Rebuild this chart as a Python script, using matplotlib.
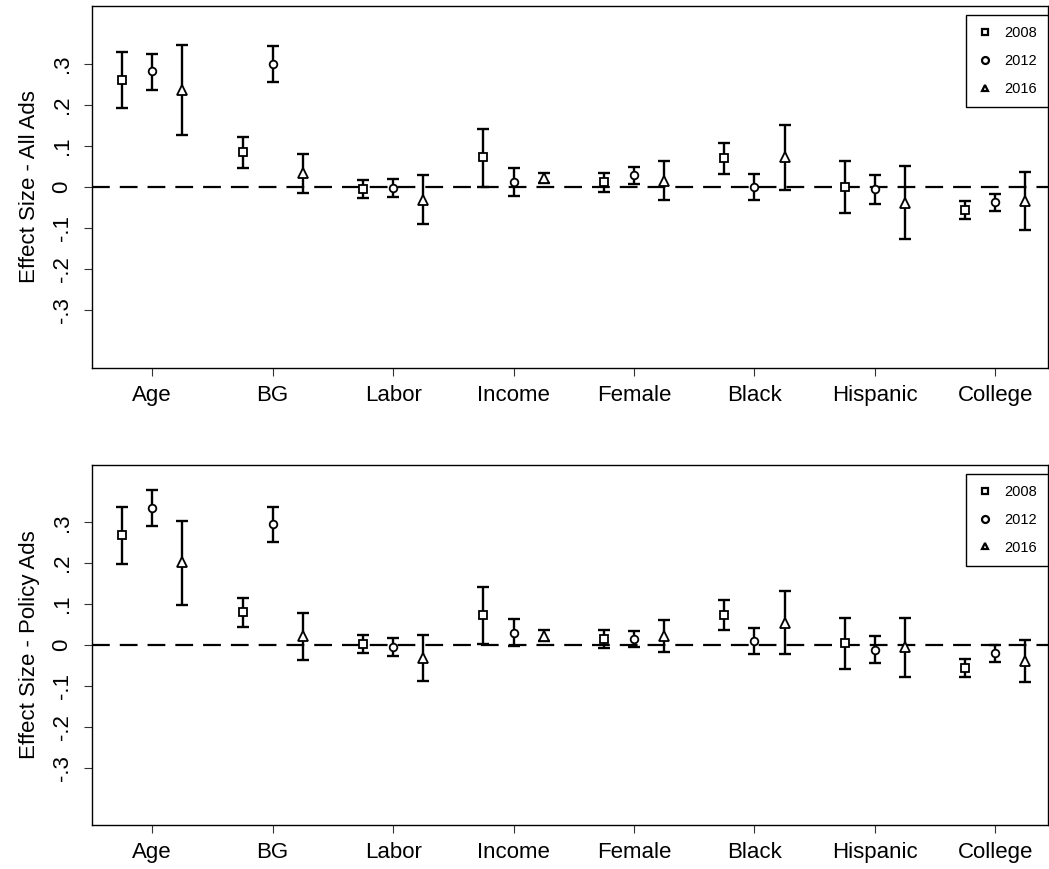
import numpy as np
import matplotlib
matplotlib.use('Agg')
import matplotlib.pyplot as plt

plt.rcParams['font.family'] = ['Liberation Sans', 'DejaVu Sans']

groups = ['Age', 'BG', 'Labor', 'Income', 'Female', 'Black', 'Hispanic', 'College']
years = ['2008', '2012', '2016']

# panel 1: all ads
all_est = {
    '2008': [0.260, 0.085, -0.004, 0.072, 0.011, 0.071, 0.001, -0.055],
    '2012': [0.281, 0.300, -0.002, 0.012, 0.028, 0.000, -0.006, -0.037],
    '2016': [0.237, 0.033, -0.031, 0.021, 0.015, 0.072, -0.038, -0.033],
}
all_lo = {
    '2008': [0.191, 0.047, -0.027, 0.000, -0.011, 0.031, -0.063, -0.078],
    '2012': [0.237, 0.256, -0.024, -0.021, 0.007, -0.032, -0.042, -0.059],
    '2016': [0.126, -0.014, -0.091, 0.009, -0.032, -0.007, -0.126, -0.104],
}
all_hi = {
    '2008': [0.328, 0.122, 0.017, 0.141, 0.033, 0.108, 0.063, -0.033],
    '2012': [0.324, 0.342, 0.019, 0.045, 0.048, 0.032, 0.028, -0.017],
    '2016': [0.346, 0.080, 0.029, 0.033, 0.062, 0.150, 0.050, 0.037],
}

# panel 2: policy ads
pol_est = {
    '2008': [0.268, 0.081, 0.002, 0.073, 0.014, 0.074, 0.005, -0.056],
    '2012': [0.335, 0.296, -0.004, 0.030, 0.014, 0.011, -0.011, -0.020],
    '2016': [0.202, 0.021, -0.031, 0.023, 0.022, 0.055, -0.006, -0.038],
}
pol_lo = {
    '2008': [0.199, 0.043, -0.020, 0.002, -0.007, 0.037, -0.058, -0.078],
    '2012': [0.290, 0.252, -0.027, -0.003, -0.006, -0.022, -0.043, -0.042],
    '2016': [0.099, -0.036, -0.087, 0.011, -0.017, -0.023, -0.079, -0.090],
}
pol_hi = {
    '2008': [0.338, 0.116, 0.024, 0.143, 0.037, 0.111, 0.067, -0.034],
    '2012': [0.379, 0.338, 0.016, 0.063, 0.034, 0.042, 0.021, 0.001],
    '2016': [0.304, 0.078, 0.024, 0.036, 0.062, 0.132, 0.067, 0.013],
}

markers = {'2008': 's', '2012': 'o', '2016': '^'}
msizes = {'2008': 5.5, '2012': 5.5, '2016': 6.5}

W, H = 1049, 869
fig = plt.figure(figsize=(W / 100, H / 100), dpi=100)


def panel(rect, est, lo, hi, ylabel):
    ax = fig.add_axes(rect)
    ax.axhline(0, color='black', lw=1.6, ls=(0, (8, 4.5)), zorder=1)
    for j, yr in enumerate(years):
        x = np.arange(len(groups)) * 4 + j
        e = np.array(est[yr])
        err = np.vstack([e - np.array(lo[yr]), np.array(hi[yr]) - e])
        ax.errorbar(x, e, yerr=err, fmt='none', ecolor='black', elinewidth=1.7,
                    capsize=4, capthick=1.7, zorder=2)
        ax.plot(x, e, ls='none', marker=markers[yr], ms=msizes[yr], mfc='white',
                mec='black', mew=1.3, zorder=3, label=yr)
    ax.set_xlim(-1, 30.75)
    ax.set_ylim(-0.44, 0.44)
    ax.set_xticks(np.arange(len(groups)) * 4 + 1)
    ax.set_xticklabels(groups, fontsize=16)
    yt = [-0.3, -0.2, -0.1, 0, 0.1, 0.2, 0.3]
    ax.set_yticks(yt)
    ax.set_yticklabels(['-.3', '-.2', '-.1', '0', '.1', '.2', '.3'], fontsize=16,
                       rotation=90, va='center')
    ax.tick_params(axis='both', direction='out', length=6, width=0.8, color='#333333')
    ax.tick_params(axis='x', pad=6)
    ax.tick_params(axis='y', pad=8)
    ax.set_ylabel(ylabel, fontsize=16, labelpad=8)
    for s in ax.spines.values():
        s.set_linewidth(1.0)
    leg = ax.legend(loc='upper right', bbox_to_anchor=(1.0, 1 - 9 / 362),
                    borderaxespad=0, fancybox=False, edgecolor='black',
                    fontsize=10.5, handletextpad=0.7, labelspacing=0.95,
                    borderpad=0.75, handlelength=1.2, framealpha=1)
    leg.get_frame().set_linewidth(1.0)
    for h in leg.legend_handles:
        h.set_markersize(5)
        h.set_markeredgewidth(1.6)
    return ax


panel([92 / W, (H - 368) / H, 956 / W, 362 / H], all_est, all_lo, all_hi,
      'Effect Size - All Ads')
panel([92 / W, (H - 825) / H, 956 / W, 360 / H], pol_est, pol_lo, pol_hi,
      'Effect Size - Policy Ads')

fig.savefig('out.png', dpi=100)
